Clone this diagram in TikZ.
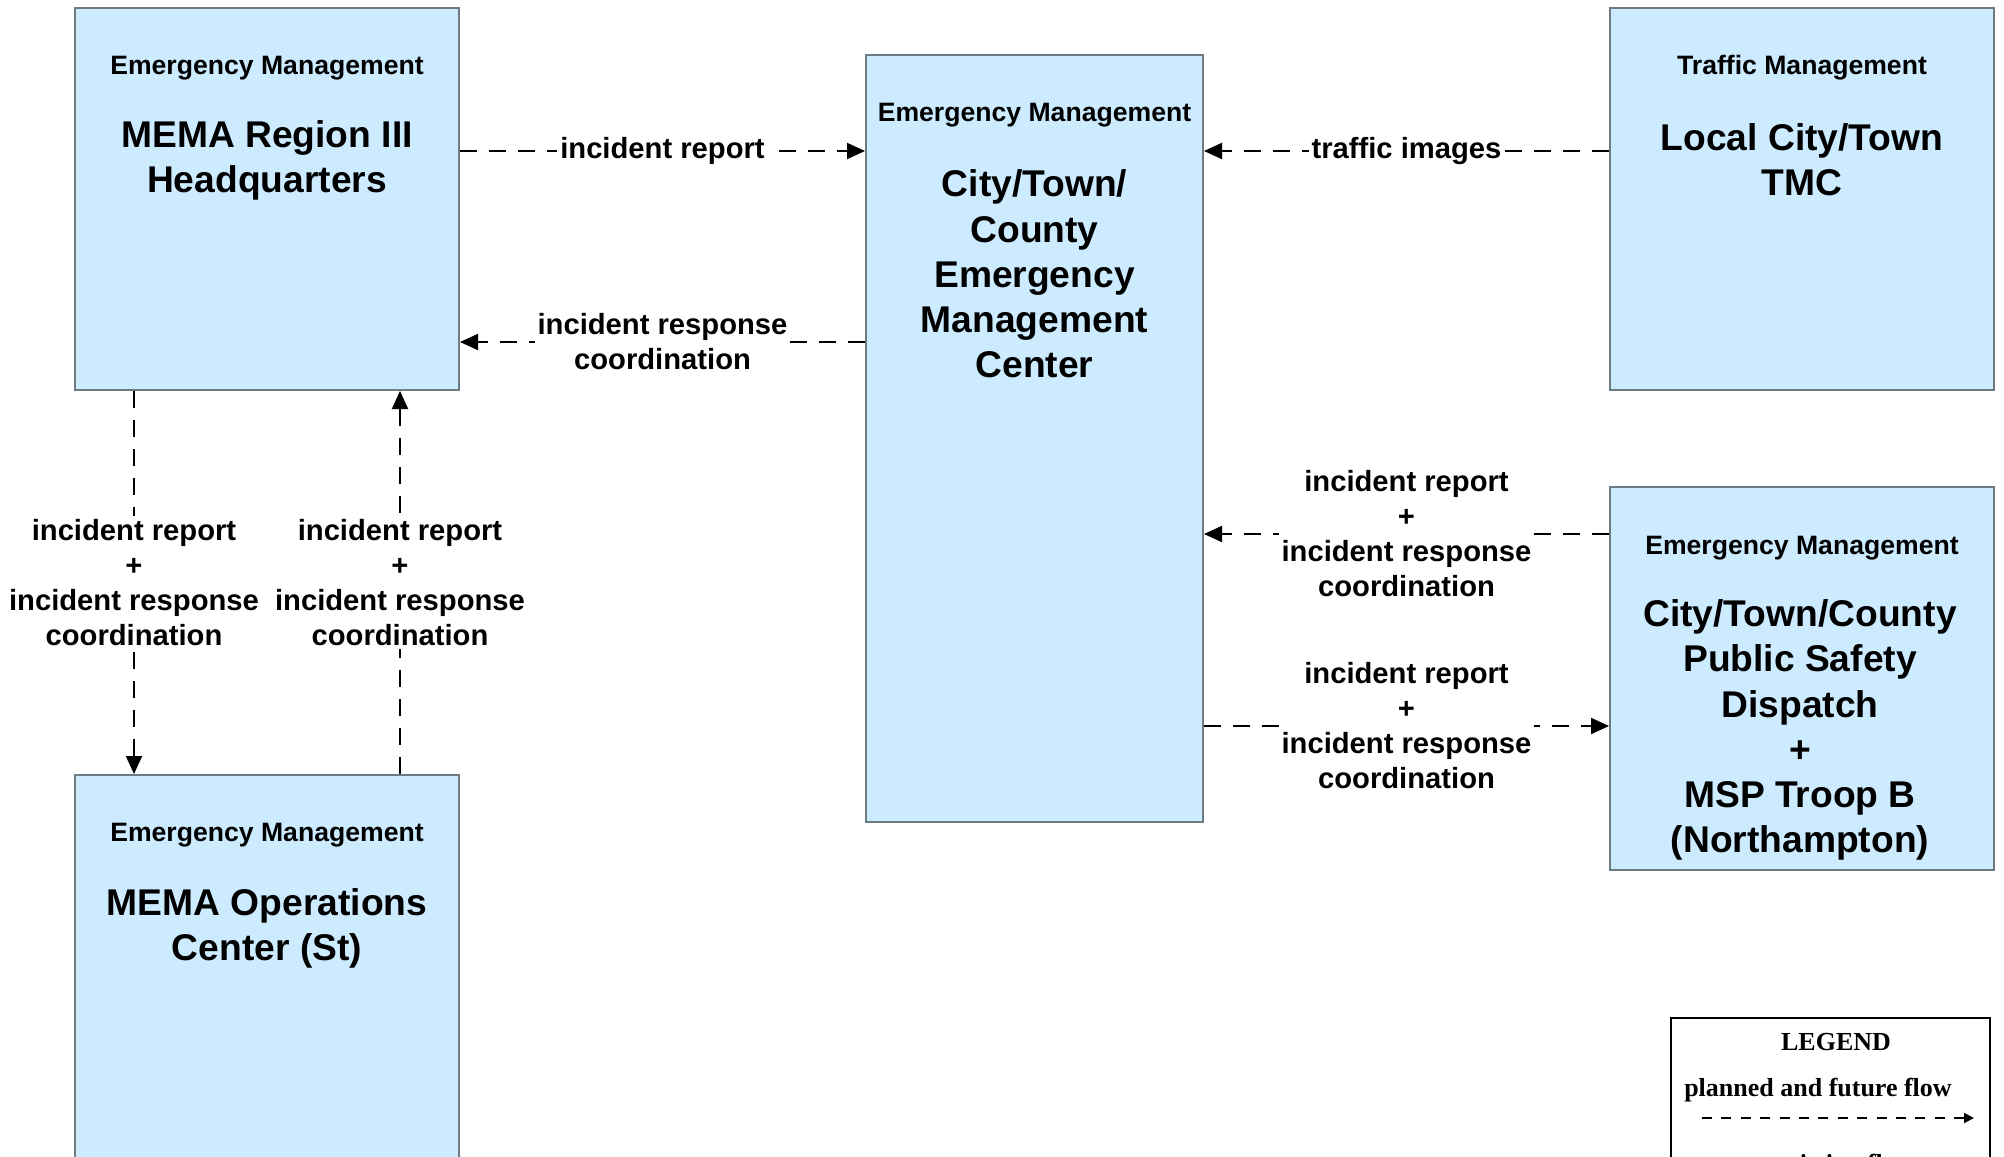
\documentclass[tikz,border=0pt]{standalone}
\usepackage{fontspec}
\setmainfont{Liberation Sans}
\newfontfamily\legendfont{Liberation Serif}
\usetikzlibrary{arrows.meta,fit}
\definecolor{boxfill}{HTML}{CCEBFF}
\definecolor{boxline}{HTML}{6F7B83}
\tikzset{
  sysbox/.style={draw=boxline, line width=1pt, fill=boxfill, inner sep=0pt},
  hdr/.style={font=\bfseries\fontsize{13.3}{16}\selectfont, inner sep=0pt},
  ttl/.style={font=\bfseries\fontsize{18.6}{22.6}\selectfont, align=center, inner sep=0pt},
  flow/.style={line width=1pt, dash pattern=on 8.5pt off 6pt, -{Triangle[length=9pt,width=8pt]}},
  flowlbl/.style={font=\bfseries\fontsize{14.6}{17.5}\selectfont, align=center, fill=white, inner sep=1.5pt},
}
\begin{document}
\begin{tikzpicture}[x=0.5pt,y=-0.5pt]
\useasboundingbox (0,0) rectangle (2004,1157);
\clip (0,0) rectangle (2004,1157);
% boxes
\node[sysbox, fit={(75,8) (459,390)}] (hq) {};
\node[sysbox, fit={(866,55) (1203,822)}] (cem) {};
\node[sysbox, fit={(1610,8) (1994,390)}] (tmc) {};
\node[sysbox, fit={(1610,487) (1994,870)}] (psd) {};
\node[sysbox, fit={(75,775) (459,1200)}] (ops) {};
% box texts
\node[hdr] (hqh) at (267,68) {Emergency Management};
\node[ttl] (hqt) at (267,160) {MEMA Region III\\Headquarters};
\node[hdr] (cemh) at (1034.5,115) {Emergency Management};
\node[ttl] (cemt) at (1034.5,274) {City/Town/\\County\\Emergency\\Management\\Center};
\node[hdr] (tmch) at (1802,68) {Traffic Management};
\node[ttl] (tmct) at (1802,160) {Local City/Town\\TMC};
\node[hdr] (psdh) at (1802,548) {Emergency Management};
\node[ttl] (psdt) at (1800,730) {City/Town/County\\Public Safety\\Dispatch\\+\\MSP Troop B\\(Northampton)};
\node[hdr] (opsh) at (267,835) {Emergency Management};
\node[ttl] (opst) at (267,928) {MEMA Operations\\Center (St)};
% helper coordinates
\coordinate (r1) at (0,151);
\coordinate (r2) at (0,342);
\coordinate (r3) at (0,534);
\coordinate (r4) at (0,726);
\coordinate (c1) at (134,0);
\coordinate (c2) at (400,0);
% connectors
\draw[flow] (hq.east |- r1) -- node[flowlbl] {incident report} (cem.west |- r1);
\draw[flow] (cem.west |- r2) -- node[flowlbl] {incident response\\coordination} (hq.east |- r2);
\draw[flow] (tmc.west |- r1) -- node[flowlbl] {traffic images} (cem.east |- r1);
\draw[flow] (psd.west |- r3) -- node[flowlbl] {incident report\\+\\incident response\\coordination} (cem.east |- r3);
\draw[flow] (cem.east |- r4) -- node[flowlbl] {incident report\\+\\incident response\\coordination} (psd.west |- r4);
\draw[flow] (hq.south -| c1) -- node[flowlbl] {incident report\\+\\incident response\\coordination} (ops.north -| c1);
\draw[flow] (ops.north -| c2) -- node[flowlbl] {incident report\\+\\incident response\\coordination} (hq.south -| c2);
% legend
\node[draw=black, line width=1.25pt, fit={(1671,1018) (1990,1300)}, inner sep=0pt] (leg) {};
\node[font=\legendfont\bfseries\fontsize{13}{15}\selectfont, inner sep=0pt] (legt) at (1836,1042) {LEGEND};
\node[font=\legendfont\bfseries\fontsize{13}{15}\selectfont, inner sep=0pt] (legp) at (1818,1090) {planned and future flow};
\coordinate (la) at (1702,1118);
\coordinate (lb) at (1974,1118);
\draw[line width=1pt, dash pattern=on 5pt off 4.7pt, -{Triangle[length=5pt,width=5pt]}] (la) -- (lb);
\node[font=\legendfont\bfseries\fontsize{13}{15}\selectfont, inner sep=0pt, anchor=base] (lege) at (1845,1172) {existing flow};
\end{tikzpicture}
\end{document}
